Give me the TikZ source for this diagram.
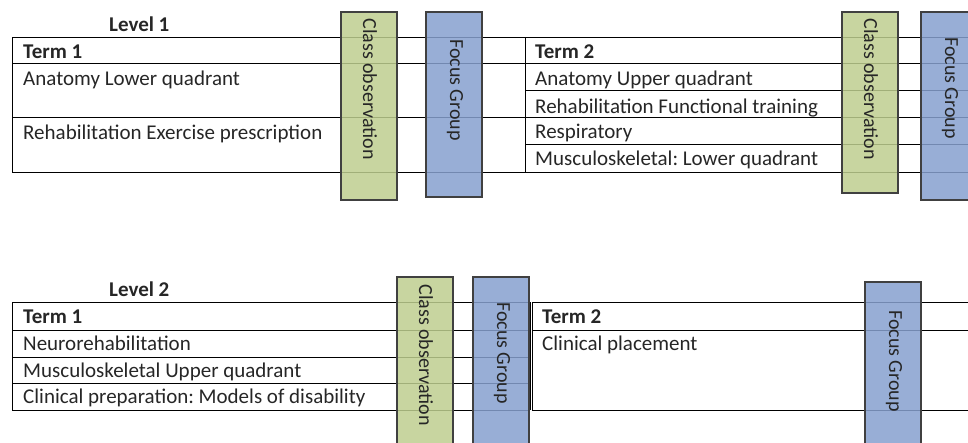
\documentclass[tikz,border=0pt]{standalone}
\usepackage{fontspec}
\setmainfont{Carlito}
\usepackage{xcolor}
\usetikzlibrary{positioning}
\frenchspacing

\definecolor{obsgreen}{HTML}{BECE8F}
\definecolor{focusblue}{HTML}{86A0CF}
\definecolor{inktext}{HTML}{262626}

\begin{document}
\begin{tikzpicture}[x=1pt,y=-1pt,
  every node/.style={font=\fontsize{21}{25}\selectfont, inner sep=0pt, text=inktext},
  rule/.style={line width=1pt},
  obsbox/.style={draw=black!75, line width=1.5pt, fill=obsgreen, fill opacity=0.85, minimum width=56pt},
  focusbox/.style={draw=black!75, line width=1.5pt, fill=focusblue, fill opacity=0.85, minimum width=56pt},
  vtext/.style={rotate=-90, font=\fontsize{20}{24}\selectfont},
  item/.style={anchor=base west},
  head/.style={anchor=base west, font=\fontsize{21}{25}\selectfont\bfseries}]

\useasboundingbox (0,0) rectangle (968,442);
\clip (0,0) rectangle (968,442);

% Level 1 table
\draw[rule] (12,37) -- (968,37);
\draw[rule] (12,63) -- (968,63);
\draw[rule] (12,117) -- (968,117);
\draw[rule] (12,172) -- (968,172);
\draw[rule] (12,37) -- (12,172);
\draw[rule] (525,37) -- (525,172);
\draw[rule] (525,90) -- (968,90);
\draw[rule] (525,144) -- (968,144);

% Level 2 table
\foreach \y in {302,330,357,383,410}
  \draw[rule] (12,\y) -- (530,\y);
\draw[rule] (12,302) -- (12,410);
\draw[rule] (530,302) -- (530,410);
\foreach \y in {302,330,410}
  \draw[rule] (532,\y) -- (968,\y);
\draw[rule] (532,302) -- (532,410);

% boxes
\node[obsbox, minimum height=188pt] (obsA) at (369,106) {};
\node[focusbox, minimum height=185pt] (focusA) at (454,104.5) {};
\node[obsbox, minimum height=181pt] (obsB) at (870,102.5) {};
\node[focusbox, minimum height=188pt] (focusB) at (949,106) {};
\node[obsbox, minimum height=173pt] (obsC) at (425,363.5) {};
\node[focusbox, minimum height=173pt] (focusC) at (501,363.5) {};
\node[focusbox, minimum height=168pt] (focusD) at (893,366) {};

\node[vtext] (obsAtxt) at (370,89) {Class observation};
\node[vtext] (focusAtxt) at (455,90) {Focus Group};
\node[vtext] (obsBtxt) at (871,89) {Class observation};
\node[vtext] (focusBtxt) at (950,88) {Focus Group};
\node[vtext] (obsCtxt) at (426,355) {Class observation};
\node[vtext] (focusCtxt) at (502,353) {Focus Group};
\node[vtext] (focusDtxt) at (894,361) {Focus Group};

% texts
\node[head] (lvlA) at (109,31) {Level 1};
\node[head] (termAA) at (23,58) {Term 1};
\node[item] (anatLow) at (23,85) {Anatomy Lower quadrant};
\node[item] (rehabEx) at (23,139) {Rehabilitation Exercise prescription};
\node[head] (termAB) at (535,58) {Term 2};
\node[item] (anatUp) at (535,85) {Anatomy Upper quadrant};
\node[item] (rehabFn) at (535,113) {Rehabilitation Functional training};
\node[item] (resp) at (535,138) {Respiratory};
\node[item] (mskLow) at (535,165) {Musculoskeletal: Lower quadrant};

\node[head] (lvlB) at (109,296) {Level 2};
\node[head] (termBA) at (23,323) {Term 1};
\node[item] (neuro) at (23,350) {Neurorehabilitation};
\node[item] (mskUp) at (23,377) {Musculoskeletal Upper quadrant};
\node[item] (clinPrep) at (23,403) {Clinical preparation: Models of disability};
\node[head] (termBB) at (542,323) {Term 2};
\node[item] (clinPlace) at (542,350) {Clinical placement};
\end{tikzpicture}
\end{document}
